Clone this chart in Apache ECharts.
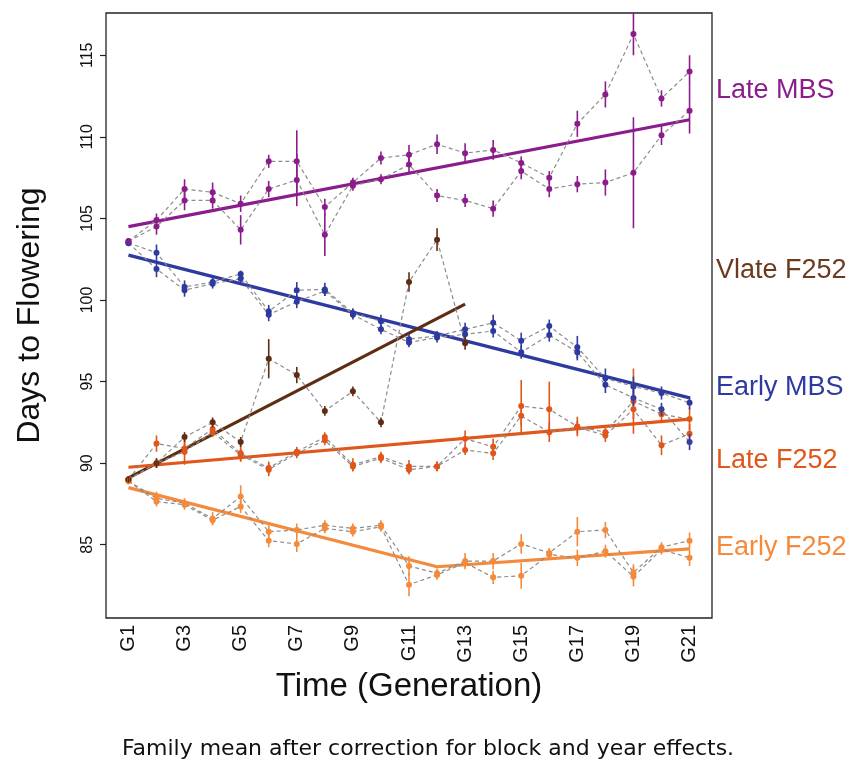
<!DOCTYPE html>
<html>
<head>
<meta charset="utf-8">
<script src="https://cdn.jsdelivr.net/npm/echarts@6/dist/echarts.min.js"></script>
<style>html,body{margin:0;padding:0;background:#fff}#c{width:856px;height:762px}</style>
</head>
<body>
<div id="c"></div>
<script>
const gens = [1,2,3,4,5,6,7,8,9,10,11,12,13,14,15,16,17,18,19,20,21];
const xTickLabels = ['G1','G3','G5','G7','G9','G11','G13','G15','G17','G19','G21'];
const yTicks = [85,90,95,100,105,110,115];

// Late MBS (two families)
const lateMBS_A     = [103.6,104.9,106.8,106.6,105.9,108.5,108.5,105.7,107.2,108.7,108.9,109.55,109.0,109.2,108.4,107.5,110.8,112.6,116.3,112.35,114.0];
const lateMBS_A_err = [0.2,0.4,0.6,0.6,0.5,0.4,1.9,0.5,0.3,0.4,0.6,0.6,0.6,0.6,0.4,0.4,0.8,0.8,1.3,0.5,1.0];
const lateMBS_B     = [103.6,104.5,106.1,106.1,104.3,106.8,107.35,104.0,107.0,107.4,108.3,106.4,106.1,105.6,107.9,106.8,107.1,107.2,107.8,110.1,111.6];
const lateMBS_B_err = [0.2,0.5,0.6,0.5,0.9,0.5,1.6,1.3,0.3,0.3,0.5,0.4,0.4,0.5,0.5,0.5,0.5,0.8,3.4,0.6,1.4];

// Early MBS
const earlyMBS_A     = [103.5,102.9,100.8,101.1,101.6,99.3,100.6,100.65,99.2,98.7,97.6,97.8,98.2,98.6,97.5,98.4,97.1,95.2,94.7,94.3,93.7];
const earlyMBS_A_err = [0.2,0.5,0.4,0.3,0.2,0.4,0.5,0.4,0.3,0.4,0.4,0.3,0.4,0.5,0.5,0.4,0.7,0.6,0.6,0.4,0.4];
const earlyMBS_B     = [103.5,101.9,100.6,101.0,101.3,99.1,99.9,100.55,99.1,98.2,97.4,97.7,97.9,98.1,96.8,97.85,96.8,94.8,94.0,93.3,91.3];
const earlyMBS_B_err = [0.2,0.5,0.4,0.3,0.2,0.4,0.4,0.3,0.3,0.3,0.3,0.3,0.3,0.4,0.4,0.4,0.5,0.5,0.5,0.4,0.5];

// Vlate F252 (G1..G13)
const vlateGens    = [1,2,3,4,5,6,7,8,9,10,11,12,13];
const vlateF252     = [89.0,90.0,91.6,92.5,91.3,96.4,95.4,93.2,94.4,92.5,101.1,103.7,97.35];
const vlateF252_err = [0.2,0.3,0.3,0.3,0.3,1.2,0.5,0.3,0.3,0.3,0.6,0.7,0.4];

// Late F252
const lateF252_A     = [89.0,91.2,90.9,92.1,90.6,89.7,90.7,91.6,89.9,90.4,89.8,89.8,91.5,91.0,93.5,93.3,92.25,91.9,93.8,93.0,92.7];
const lateF252_A_err = [0.2,0.5,0.4,0.3,0.5,0.4,0.3,0.3,0.4,0.3,0.4,0.3,0.5,0.5,1.6,1.7,0.6,0.4,2.0,0.5,0.7];
const lateF252_B     = [89.0,90.0,90.7,91.9,90.5,89.6,90.6,91.4,89.8,90.3,89.6,89.8,90.8,90.6,92.9,91.9,92.2,91.7,93.3,91.1,91.8];
const lateF252_B_err = [0.2,0.3,0.8,0.3,0.4,0.4,0.3,0.3,0.3,0.3,0.3,0.3,0.3,0.4,0.6,0.6,0.4,0.4,0.6,0.6,0.6];

// Early F252
const earlyF252_A     = [88.9,87.85,87.55,86.6,87.95,85.8,85.9,86.2,86.0,86.2,83.7,83.25,84.0,84.0,85.05,84.5,85.8,85.9,83.3,84.85,85.25];
const earlyF252_A_err = [0.2,0.4,0.3,0.4,0.7,0.4,0.4,0.3,0.3,0.3,0.6,0.3,0.5,0.5,0.6,0.3,0.9,0.5,0.5,0.3,0.5];
const earlyF252_B     = [88.9,87.65,87.45,86.5,87.35,85.25,85.05,86.0,85.8,86.1,82.55,83.15,83.9,83.0,83.1,84.4,84.2,84.6,83.05,84.7,84.2];
const earlyF252_B_err = [0.2,0.3,0.3,0.3,0.4,0.4,0.5,0.3,0.3,0.3,0.7,0.3,0.3,0.4,0.8,0.3,0.5,0.4,0.6,0.3,0.5];

// Fitted trend lines
const regLateMBS_x = [1,21],     regLateMBS_y = [104.5,111.05];
const regEarlyMBS_x = [1,21],    regEarlyMBS_y = [102.75,94.0];
const regVlate_x = [1,13],       regVlate_y = [89.1,99.75];
const regLateF252_x = [1,21],    regLateF252_y = [89.75,92.7];
const regEarlyF252_x = [1,12,21], regEarlyF252_y = [88.5,83.65,84.75];

const groupLabels = ['Late MBS','Vlate F252','Early MBS','Late F252','Early F252'];

const C = {
  lateMBS: '#8B1C8C',
  earlyMBS: '#2D3A9F',
  vlate: '#5E2D12',
  vlateText: '#6E3A1E',
  lateF252: '#E0561B',
  earlyF252: '#F58A3B'
};

function pairs(xs, ys){ return ys.map((v,i)=>[xs[i], v]); }

function dashed(xs, vals, color){
  return {
    type:'line', data: pairs(xs, vals), z:3, silent:true, animation:false,
    lineStyle:{color:'#8c8c8c', width:1.2, type:[4,3]},
    symbol:'circle', symbolSize:6, itemStyle:{color:color}
  };
}
function errbars(xs, vals, errs, color){
  return {
    type:'custom', z:4, silent:true, animation:false,
    data: vals.map((v,i)=>[xs[i], v, errs[i]]),
    encode:{x:0, y:1},
    renderItem: function(params, api){
      const x = api.value(0), y = api.value(1), e = api.value(2);
      const p1 = api.coord([x, y - e]), p2 = api.coord([x, y + e]);
      return {type:'line', shape:{x1:p1[0], y1:p1[1], x2:p2[0], y2:p2[1]},
              style:{stroke:color, lineWidth:1.6}};
    }
  };
}
function trend(xs, ys, color){
  return {
    type:'line', data: pairs(xs, ys), z:2, silent:true, animation:false,
    symbol:'none', lineStyle:{color:color, width:3.2}
  };
}

const series = [
  trend(regLateMBS_x, regLateMBS_y, C.lateMBS),
  trend(regEarlyMBS_x, regEarlyMBS_y, C.earlyMBS),
  trend(regVlate_x, regVlate_y, C.vlate),
  trend(regLateF252_x, regLateF252_y, C.lateF252),
  trend(regEarlyF252_x, regEarlyF252_y, C.earlyF252),

  dashed(gens, earlyF252_A, C.earlyF252), dashed(gens, earlyF252_B, C.earlyF252),
  errbars(gens, earlyF252_A, earlyF252_A_err, C.earlyF252), errbars(gens, earlyF252_B, earlyF252_B_err, C.earlyF252),
  dashed(gens, lateF252_A, C.lateF252), dashed(gens, lateF252_B, C.lateF252),
  errbars(gens, lateF252_A, lateF252_A_err, C.lateF252), errbars(gens, lateF252_B, lateF252_B_err, C.lateF252),
  dashed(gens, earlyMBS_A, C.earlyMBS), dashed(gens, earlyMBS_B, C.earlyMBS),
  errbars(gens, earlyMBS_A, earlyMBS_A_err, C.earlyMBS), errbars(gens, earlyMBS_B, earlyMBS_B_err, C.earlyMBS),
  dashed(vlateGens, vlateF252, C.vlate),
  errbars(vlateGens, vlateF252, vlateF252_err, C.vlate),
  dashed(gens, lateMBS_A, C.lateMBS), dashed(gens, lateMBS_B, C.lateMBS),
  errbars(gens, lateMBS_A, lateMBS_A_err, C.lateMBS), errbars(gens, lateMBS_B, lateMBS_B_err, C.lateMBS)
];

const FONT = 'Liberation Sans';
const labelColors = [C.lateMBS, C.vlateText, C.earlyMBS, C.lateF252, C.earlyF252];
const labelY = [92, 272, 389, 462, 549];

const chart = echarts.init(document.getElementById('c'), null, {renderer:'canvas'});
chart.setOption({
  animation:false,
  backgroundColor:'#fff',
  textStyle:{fontFamily:FONT},
  title:{
    text:'Family mean after correction for block and year effects.',
    left:'center', top:733,
    textStyle:{fontFamily:'DejaVu Sans', fontSize:22, fontWeight:'normal', color:'#111'}
  },
  grid:{left:106, top:13, right:144, bottom:144, containLabel:false, outerBoundsMode:'none',
        show:true, borderColor:'#222', borderWidth:1.3, backgroundColor:'transparent'},
  xAxis:{
    type:'value', min:0.2, max:21.8,
    axisLine:{show:false}, axisTick:{show:false}, splitLine:{show:false},
    axisLabel:{
      customValues: xTickLabels.map(s=>parseInt(s.slice(1),10)),
      formatter: v => 'G' + v,
      rotate:90, fontSize:20, color:'#111', margin:7, fontFamily:FONT
    },
    name:'Time (Generation)', nameLocation:'middle', nameGap:50,
    nameTextStyle:{fontSize:33, color:'#111', fontFamily:FONT}
  },
  yAxis:{
    type:'value', min:80.51, max:117.59,
    axisLine:{show:false}, splitLine:{show:false},
    axisTick:{show:true, customValues:yTicks, length:6, lineStyle:{color:'#222', width:1.2}},
    axisLabel:{customValues:yTicks, rotate:90, fontSize:16, color:'#111', margin:10, fontFamily:FONT},
    name:'Days to Flowering', nameLocation:'middle', nameGap:60,
    nameTextStyle:{fontSize:32, color:'#111', fontFamily:FONT}
  },
  graphic: groupLabels.map((t,i)=>({
    type:'text', left:716, top:labelY[i]-15,
    style:{text:t, fill:labelColors[i], font:'27px "' + FONT + '"'}
  })),
  series: series
});
</script>
</body>
</html>
